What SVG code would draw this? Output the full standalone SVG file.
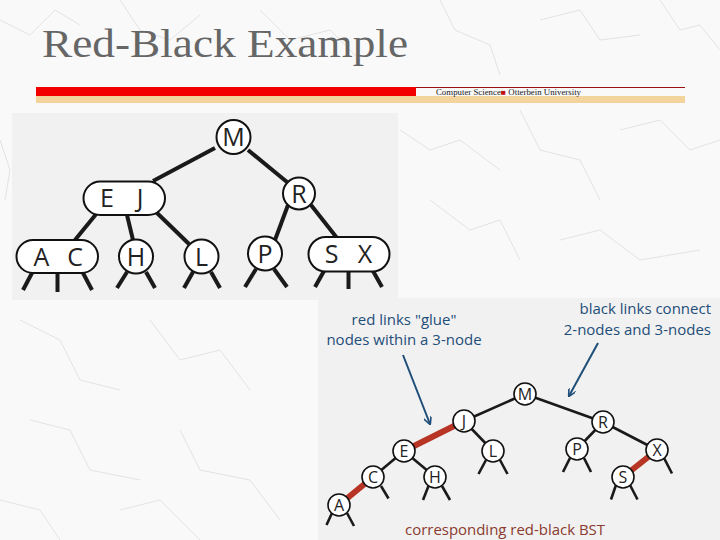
<svg xmlns="http://www.w3.org/2000/svg" width="720" height="540" viewBox="0 0 720 540">
<defs>
<style>
.crack{fill:none;stroke:#e3e3e3;stroke-width:1}
.panel{fill:#f1f1f1}
.big{fill:#fff;stroke:#111;stroke-width:2}
.bl{font-family:"Open Sans","DejaVu Sans",sans-serif;font-size:25px;fill:#222;text-anchor:middle}
.sm{fill:#fff;stroke:#111;stroke-width:1.6}
.sl{font-family:"Open Sans","DejaVu Sans",sans-serif;font-size:16px;fill:#222;text-anchor:middle}
.e1{stroke:#1a1a1a;stroke-width:4;stroke-linecap:butt}
.e2{stroke:#1a1a1a;stroke-width:2.6}
.red{stroke:#b83424;stroke-width:6}
.note{font-family:"Open Sans","DejaVu Sans",sans-serif;font-size:15px;fill:#1f4e79}
.arr{stroke:#1f4e79;stroke-width:2;fill:none}
</style>
<marker id="ah" viewBox="0 0 10 10" refX="9" refY="5" markerWidth="8" markerHeight="8" orient="auto" markerUnits="userSpaceOnUse">
<path d="M0,0 L10,5 L0,10" fill="none" stroke="#1f4e79" stroke-width="2"/>
</marker>
</defs>
<rect width="720" height="540" fill="#f9f9f9"/>
<g id="texture">
<polyline class="crack" points="0,20 30,35 55,10 80,25"/>
<polyline class="crack" points="120,0 140,30 170,40 200,15"/>
<polyline class="crack" points="260,10 290,40 330,30 360,60"/>
<polyline class="crack" points="440,0 455,30 490,45 500,75"/>
<polyline class="crack" points="540,20 580,10 600,40 640,35"/>
<polyline class="crack" points="660,0 680,30 700,25 720,50"/>
<polyline class="crack" points="0,140 10,170 5,200"/>
<polyline class="crack" points="400,130 430,150 460,140 500,170"/>
<polyline class="crack" points="520,110 540,150 580,160 600,200"/>
<polyline class="crack" points="620,130 660,120 690,150 720,140"/>
<polyline class="crack" points="430,200 470,230 500,220 520,260"/>
<polyline class="crack" points="560,240 600,230 640,260 700,250"/>
<polyline class="crack" points="20,320 60,340 80,380 120,390"/>
<polyline class="crack" points="150,320 180,360 220,350 250,390"/>
<polyline class="crack" points="30,420 70,430 90,470 140,480"/>
<polyline class="crack" points="180,430 200,470 250,480 280,520"/>
<polyline class="crack" points="0,500 40,510 60,540"/>
<polyline class="crack" points="120,510 160,500 200,540"/>
</g>
<text x="42" y="57" font-family="'Liberation Serif','DejaVu Serif',serif" font-size="40" fill="#666" textLength="366" lengthAdjust="spacingAndGlyphs">Red-Black Example</text>
<g id="header">
<rect x="36" y="87" width="380" height="9" fill="#f20000"/>
<line x1="416" y1="87.5" x2="685" y2="87.5" stroke="#9b1010" stroke-width="1"/>
<rect x="36" y="96" width="649" height="7" fill="#f3d49c"/>
<text x="436" y="95" font-family="'Liberation Serif',serif" font-size="8" fill="#222" textLength="145" lengthAdjust="spacingAndGlyphs">Computer Science<tspan fill="#c01010">■</tspan> Otterbein University</text>
</g>
<rect id="topPanel" class="panel" x="12" y="113" width="386" height="187"/>
<rect id="bottomPanel" class="panel" x="318" y="298" width="402" height="242"/>
<g id="connectors">
<line class="e1" x1="215" y1="148" x2="153" y2="181"/>
<line class="e1" x1="248" y1="150" x2="287" y2="182"/>
<line class="e1" x1="97" y1="213" x2="75" y2="240"/>
<line class="e1" x1="127" y1="215" x2="133" y2="240"/>
<line class="e1" x1="155" y1="211" x2="189" y2="244"/>
<line class="e1" x1="288" y1="205" x2="275" y2="240"/>
<line class="e1" x1="311" y1="205" x2="337" y2="238"/>
<line class="e1" x1="32" y1="273" x2="23" y2="290"/>
<line class="e1" x1="57.5" y1="273" x2="57.5" y2="292"/>
<line class="e1" x1="83" y1="273" x2="92" y2="290"/>
<line class="e1" x1="127" y1="272" x2="117" y2="288"/>
<line class="e1" x1="146" y1="272" x2="155" y2="288"/>
<line class="e1" x1="193" y1="272" x2="184" y2="288"/>
<line class="e1" x1="211" y1="272" x2="220" y2="288"/>
<line class="e1" x1="256" y1="269" x2="245" y2="287"/>
<line class="e1" x1="274" y1="269" x2="287" y2="287"/>
<line class="e1" x1="324" y1="271" x2="315" y2="287"/>
<line class="e1" x1="348.5" y1="271" x2="348.5" y2="289"/>
<line class="e1" x1="373" y1="271" x2="382" y2="287"/>
<line class="e2" x1="525" y1="394" x2="464" y2="421"/>
<line class="e2" x1="525" y1="394" x2="603" y2="422"/>
<line class="e2" x1="464" y1="421" x2="493" y2="451"/>
<line class="e2" x1="404" y1="451" x2="435" y2="477"/>
<line class="e2" x1="404" y1="451" x2="373" y2="477"/>
<line class="e2" x1="603" y1="422" x2="577" y2="449"/>
<line class="e2" x1="603" y1="422" x2="657" y2="450"/>
<line class="red" x1="464" y1="421" x2="404" y2="451"/>
<line class="red" x1="373" y1="477" x2="339" y2="505"/>
<line class="red" x1="657" y1="450" x2="623" y2="477"/>
<line class="e2" x1="332" y1="513" x2="326.5" y2="525"/>
<line class="e2" x1="347" y1="513" x2="354" y2="526"/>
<line class="e2" x1="381" y1="486" x2="388.5" y2="498.5"/>
<line class="e2" x1="428.5" y1="486" x2="423" y2="500"/>
<line class="e2" x1="442" y1="486" x2="450" y2="500"/>
<line class="e2" x1="486" y1="460" x2="478.5" y2="474"/>
<line class="e2" x1="500" y1="460" x2="507.5" y2="474"/>
<line class="e2" x1="570" y1="458" x2="563" y2="472"/>
<line class="e2" x1="584" y1="458" x2="591" y2="472"/>
<line class="e2" x1="664" y1="458" x2="672" y2="473.5"/>
<line class="e2" x1="616" y1="485" x2="611" y2="499.5"/>
<line class="e2" x1="630" y1="485" x2="637.5" y2="499.5"/>
<line class="arr" x1="403" y1="355" x2="430" y2="424" marker-end="url(#ah)"/>
<line class="arr" x1="598" y1="343" x2="569" y2="396" marker-end="url(#ah)"/>
</g>
<g id="M"><circle class="big" cx="233.5" cy="137" r="17"/><text class="bl" x="233.5" y="146">M</text></g>
<g id="EJ"><rect class="big" x="83.5" y="181.5" width="81.5" height="33.5" rx="16.75"/><text class="bl" x="107" y="207">E</text><text class="bl" x="140" y="207">J</text></g>
<g id="R"><circle class="big" cx="299" cy="193.5" r="16"/><text class="bl" x="299" y="202.5">R</text></g>
<g id="AC"><rect class="big" x="16.5" y="240" width="81.5" height="33" rx="16.5"/><text class="bl" x="41.5" y="265.5">A</text><text class="bl" x="75" y="265.5">C</text></g>
<g id="H"><circle class="big" cx="136" cy="256.5" r="17"/><text class="bl" x="136" y="265.5">H</text></g>
<g id="L"><circle class="big" cx="201.5" cy="256.5" r="17"/><text class="bl" x="201.5" y="265.5">L</text></g>
<g id="P"><circle class="big" cx="265" cy="253.5" r="17"/><text class="bl" x="265" y="262.5">P</text></g>
<g id="SX"><rect class="big" x="308.5" y="237" width="81" height="34.5" rx="17.25"/><text class="bl" x="331.5" y="263">S</text><text class="bl" x="365" y="263">X</text></g>
<g id="bM"><circle class="sm" cx="525" cy="394" r="11"/><text class="sl" x="525" y="400">M</text></g>
<g id="bJ"><circle class="sm" cx="464" cy="421" r="11"/><text class="sl" x="464" y="427">J</text></g>
<g id="bR"><circle class="sm" cx="603" cy="422" r="11"/><text class="sl" x="603" y="428">R</text></g>
<g id="bE"><circle class="sm" cx="404" cy="451" r="11"/><text class="sl" x="404" y="457">E</text></g>
<g id="bL"><circle class="sm" cx="493" cy="451" r="11"/><text class="sl" x="493" y="457">L</text></g>
<g id="bP"><circle class="sm" cx="577" cy="449" r="11"/><text class="sl" x="577" y="455">P</text></g>
<g id="bX"><circle class="sm" cx="657" cy="450" r="11"/><text class="sl" x="657" y="456">X</text></g>
<g id="bC"><circle class="sm" cx="373" cy="477" r="11"/><text class="sl" x="373" y="483">C</text></g>
<g id="bH"><circle class="sm" cx="435" cy="477" r="11"/><text class="sl" x="435" y="483">H</text></g>
<g id="bS"><circle class="sm" cx="623" cy="477" r="11"/><text class="sl" x="623" y="483">S</text></g>
<g id="bA"><circle class="sm" cx="339" cy="505" r="11"/><text class="sl" x="339" y="511">A</text></g>
<g id="labels">
<text class="note" x="404" y="325" text-anchor="middle">red links "glue"</text>
<text class="note" x="404" y="345" text-anchor="middle">nodes within a 3-node</text>
<text class="note" x="711" y="314" text-anchor="end">black links connect</text>
<text class="note" x="711" y="335" text-anchor="end">2-nodes and 3-nodes</text>
<text x="405" y="535" font-family="'Open Sans','DejaVu Sans',sans-serif" font-size="15" fill="#8a3a2e" textLength="200" lengthAdjust="spacingAndGlyphs">corresponding red-black BST</text>
</g>
</svg>
